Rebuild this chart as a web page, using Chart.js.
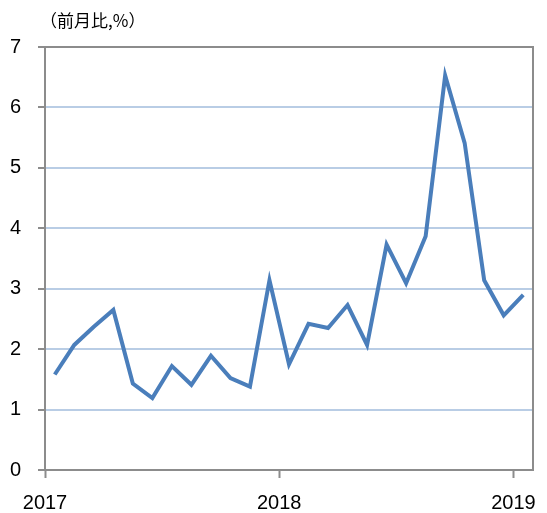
<!DOCTYPE html>
<html>
<head>
<meta charset="utf-8">
<script src="https://cdn.jsdelivr.net/npm/chart.js@4/dist/chart.umd.min.js"></script>
<style>
  html, body { margin: 0; padding: 0; background: #fff; }
  #wrap { width: 547px; height: 513px; }
</style>
</head>
<body>
<div id="wrap"><canvas id="myChart" width="547" height="513"></canvas></div>
<script>
var months = ["2017-01", "2017-02", "2017-03", "2017-04", "2017-05", "2017-06",
              "2017-07", "2017-08", "2017-09", "2017-10", "2017-11", "2017-12",
              "2018-01", "2018-02", "2018-03", "2018-04", "2018-05", "2018-06",
              "2018-07", "2018-08", "2018-09", "2018-10", "2018-11", "2018-12",
              "2019-01"];
var yValues = [1.58, 2.07, 2.37, 2.65, 1.43, 1.19, 1.72, 1.41, 1.89, 1.52, 1.38, 3.14,
               1.75, 2.42, 2.35, 2.73, 2.07, 3.73, 3.09, 3.87, 6.53, 5.41, 3.14, 2.56,
               2.90];
var yearLabels = ["2017", "2018", "2019"];
var unitLabel = "（前月比,%）";

var lineColor = "#4a7ebb";
var axisColor = "#8c8c8c";
var gridColor = "#b9cde5";

// each month sits in the middle of its slot, years on the slot edges
var points = months.map(function (m, i) {
    return { x: i + 0.5, y: yValues[i] };
});

var framePlugin = {
    id: "frame",
    afterDraw: function (chart) {
        var a = chart.chartArea;
        var ctx = chart.ctx;
        ctx.save();
        ctx.strokeStyle = axisColor;
        ctx.lineWidth = 2;
        ctx.beginPath();
        ctx.moveTo(a.left, a.top);
        ctx.lineTo(a.right, a.top);
        ctx.lineTo(a.right, a.bottom);
        ctx.stroke();
        ctx.fillStyle = "#000";
        ctx.font = "17px 'Noto Sans CJK JP'";
        ctx.textBaseline = "middle";
        ctx.fillText(unitLabel, 40, 21);
        ctx.restore();
    }
};

new Chart("myChart", {
    type: "line",
    data: {
        datasets: [{
            data: points,
            borderColor: lineColor,
            borderWidth: 4,
            pointRadius: 0,
            tension: 0,
            fill: false
        }]
    },
    plugins: [framePlugin],
    options: {
        responsive: false,
        animation: false,
        layout: { padding: { left: 10, right: 14, top: 47, bottom: 0 } },
        plugins: {
            legend: { display: false },
            tooltip: { enabled: false }
        },
        scales: {
            x: {
                type: "linear",
                min: 0,
                max: months.length,
                afterFit: function (s) {
                    s.paddingLeft = 0;
                    s.paddingRight = 0;
                    s.height = 43;
                },
                grid: {
                    drawOnChartArea: false,
                    drawTicks: true,
                    tickLength: 8,
                    tickColor: axisColor,
                    tickWidth: 2
                },
                border: { color: axisColor, width: 2 },
                ticks: {
                    stepSize: 12,
                    includeBounds: false,
                    autoSkip: false,
                    maxRotation: 0,
                    padding: 13,
                    color: "#000",
                    font: { family: "'Liberation Sans', Arial", size: 20 },
                    callback: function (v) {
                        return yearLabels[v / 12];
                    }
                }
            },
            y: {
                min: 0,
                max: 7,
                afterFit: function (s) {
                    s.paddingTop = 0;
                    s.paddingBottom = 0;
                    s.width = 35;
                },
                grid: {
                    color: function (c) {
                        return (c.tick.value === 0 || c.tick.value === 7) ? "rgba(0,0,0,0)" : gridColor;
                    },
                    lineWidth: 2,
                    tickLength: 7,
                    tickColor: axisColor,
                    tickWidth: 2
                },
                border: { color: axisColor, width: 2 },
                ticks: {
                    stepSize: 1,
                    padding: 17,
                    color: "#000",
                    font: { family: "'Liberation Sans', Arial", size: 20 }
                }
            }
        }
    }
});
</script>
</body>
</html>
